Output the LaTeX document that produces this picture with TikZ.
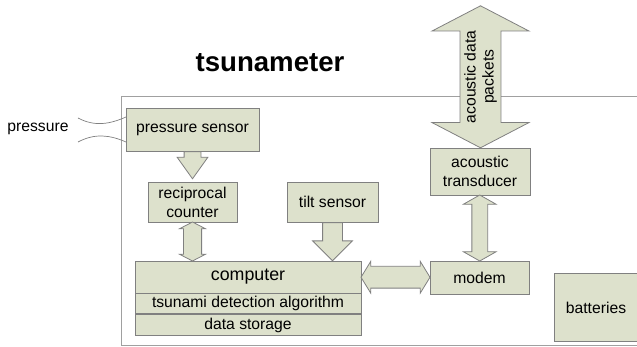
\documentclass[tikz,border=0pt]{standalone}
\usepackage{fontspec}
\setmainfont{Liberation Sans}
\usepackage{tikz}
\usetikzlibrary{positioning,calc,shapes.arrows}

\definecolor{boxfill}{HTML}{DDE1CC}
\definecolor{boxline}{HTML}{808080}
\definecolor{frameline}{HTML}{A0A0A0}

\tikzset{
  box/.style={draw=boxline, fill=boxfill, line width=0.8pt, inner sep=0pt,
    align=center, font=\fontsize{15.7}{19}\selectfont},
  fatarrow/.style={single arrow, draw=boxline, fill=boxfill, line width=0.8pt,
    inner xsep=0pt, minimum width=0pt},
  fatdouble/.style={double arrow, draw=boxline, fill=boxfill, line width=0.8pt,
    inner xsep=0pt, minimum width=0pt},
}

\begin{document}
\begin{tikzpicture}[x=1pt,y=-1pt]
\useasboundingbox (0,0) rectangle (637,347);
\draw[frameline, line width=1pt] (121,97) rectangle (660,345);

\node (title) at (270,63) {\fontsize{27.6}{32}\selectfont\bfseries tsunameter};
\node[font=\fontsize{15.7}{19}\selectfont] (pr) at (38,129) {pressure};

\node[box, minimum width=133pt, minimum height=43pt] (ps) at (192.5,129.5) {pressure sensor};
\node[box, minimum width=89pt, minimum height=40pt] (rc) at (192.5,202) {reciprocal\\counter};
\node[box, minimum width=91pt, minimum height=40pt] (ts) at (332.5,202) {tilt sensor};
\node[box, minimum width=226pt, minimum height=32pt, font=\fontsize{17.8}{20}\selectfont] (cp) at (248,277) {computer};
\node[box, minimum width=226pt, minimum height=20pt, below=0pt of cp] (alg) {tsunami detection algorithm};
\node[box, minimum width=226pt, minimum height=21pt, below=0pt of alg] (ds) {data storage};
\node[box, minimum width=99pt, minimum height=33pt] (md) at (479.5,277.5) {modem};
\node[box, minimum width=100pt, minimum height=47pt] (at) at (480,171.5) {acoustic\\transducer};
\node[box, minimum width=84pt, minimum height=68pt] (bt) at (596,307.5) {batteries};
\coordinate (sea) at (481,6);

% pressure lines
\draw[boxline, line width=0.7pt] (78,118) .. controls (95,127) and (110,124) .. (126,117);
\draw[boxline, line width=0.7pt] (78,142) .. controls (95,133) and (110,135) .. (126,142);

% block arrows
\node[fatarrow, rotate=270, inner ysep=8pt, single arrow head extend=7pt,
  single arrow tip angle=71, minimum height=27pt, anchor=tail] (psrc) at (ps.south) {};
\node[fatarrow, rotate=270, inner ysep=9.5pt, single arrow head extend=10pt,
  single arrow tip angle=90, minimum height=38pt, anchor=tail] (tscp) at (ts.south) {};
\node[fatdouble, rotate=90, inner ysep=8.7pt, double arrow head extend=4pt,
  double arrow tip angle=125, minimum height=39pt] (rccp) at ($(rc.south)!0.5!(rc.south |- cp.north)$) {};
\node[fatdouble, inner ysep=10.5pt, double arrow head extend=5pt,
  double arrow tip angle=117, minimum height=69pt] (cpmd) at ($(cp.east)!0.5!(md.west)$) {};
\node[fatdouble, rotate=90, inner ysep=7.5pt, double arrow head extend=8.5pt,
  double arrow tip angle=121, minimum height=66pt] (atmd) at ($(at.south)!0.5!(md.north)$) {};
\node[fatdouble, rotate=90, inner ysep=3.7pt, double arrow head extend=28pt,
  double arrow tip angle=125, minimum height=142pt, align=center,
  font=\fontsize{15.7}{18}\selectfont] (pk) at ($(sea)!0.5!(at.north)$) {acoustic data\\packets};
\end{tikzpicture}
\end{document}
